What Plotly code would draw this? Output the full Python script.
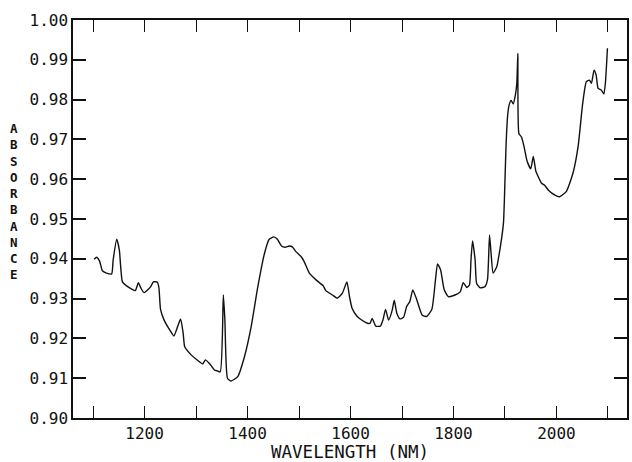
import plotly.graph_objects as go

wavelength = [1102, 1107, 1113, 1118, 1126, 1136, 1139, 1146, 1151, 1157, 1165, 1175, 1182, 1188,
              1193, 1199, 1207, 1212, 1217, 1225, 1228, 1231, 1238, 1249, 1257, 1264, 1270, 1275,
              1278, 1291, 1304, 1313, 1318, 1326, 1336, 1340, 1347, 1353, 1356, 1361, 1368, 1381,
              1394, 1407, 1420, 1433, 1442, 1451, 1458, 1466, 1473, 1481, 1487, 1494, 1505, 1510,
              1520, 1533, 1547, 1552, 1565, 1574, 1584, 1593, 1598, 1603, 1613, 1623, 1633, 1638,
              1642, 1649, 1658, 1663, 1668, 1674, 1681, 1685, 1690, 1696, 1703, 1709, 1715, 1721,
              1729, 1739, 1748, 1758, 1765, 1769, 1775, 1782, 1790, 1803, 1813, 1819, 1826, 1831,
              1834, 1837, 1842, 1845, 1852, 1861, 1866, 1870, 1873, 1877, 1884, 1890, 1897, 1900,
              1902, 1905, 1908, 1912, 1916, 1920, 1923, 1925, 1927, 1932, 1937, 1943, 1950, 1955,
              1960, 1964, 1971, 1977, 1984, 1997, 2006, 2019, 2032, 2042, 2051, 2058, 2064, 2068,
              2073, 2077, 2081, 2087, 2092, 2095, 2099]
absorbance = [0.9399, 0.9404, 0.9393, 0.9370, 0.9364, 0.9362, 0.9397, 0.9449, 0.9422, 0.9342,
              0.9332, 0.9324, 0.9320, 0.9340, 0.9326, 0.9315, 0.9323, 0.9330, 0.9342, 0.9341,
              0.9326, 0.9273, 0.9246, 0.9221, 0.9206, 0.9229, 0.9249, 0.9213, 0.9179, 0.9158,
              0.9144, 0.9136, 0.9146, 0.9137, 0.9120, 0.9119, 0.9116, 0.9309, 0.9246, 0.9100,
              0.9093, 0.9104, 0.9154, 0.9229, 0.9330, 0.9414, 0.9449, 0.9455, 0.9449, 0.9432,
              0.9429, 0.9432, 0.9430, 0.9418, 0.9404, 0.9393, 0.9364, 0.9347, 0.9332, 0.9320,
              0.9309, 0.9301, 0.9313, 0.9342, 0.9305, 0.9276, 0.9255, 0.9245, 0.9238, 0.9238,
              0.9250, 0.9231, 0.9231, 0.9246, 0.9273, 0.9246, 0.9271, 0.9296, 0.9263, 0.9249,
              0.9253, 0.9280, 0.9292, 0.9322, 0.9296, 0.9259, 0.9255, 0.9273, 0.9347, 0.9387,
              0.9372, 0.9322, 0.9305, 0.9309, 0.9317, 0.9340, 0.9328, 0.9334, 0.9397, 0.9445,
              0.9397, 0.9338, 0.9327, 0.9330, 0.9347, 0.9460, 0.9414, 0.9364, 0.9380, 0.9422,
              0.9489, 0.9598, 0.9682, 0.9757, 0.9786, 0.9798, 0.9789, 0.9810, 0.9841, 0.9916,
              0.9715, 0.9706, 0.9682, 0.9645, 0.9626, 0.9657, 0.9620, 0.9608, 0.9590, 0.9585,
              0.9573, 0.9560, 0.9556, 0.9569, 0.9615, 0.9682, 0.9791, 0.9845, 0.9849, 0.9841,
              0.9874, 0.9862, 0.9828, 0.9824, 0.9814, 0.9841, 0.9929]

x_tickvals = [1100, 1200, 1300, 1400, 1500, 1600, 1700, 1800, 1900, 2000, 2100]
x_ticktext = ["", "1200", "", "1400", "", "1600", "", "1800", "", "2000", ""]
y_tickvals = [0.90, 0.91, 0.92, 0.93, 0.94, 0.95, 0.96, 0.97, 0.98, 0.99, 1.00]
y_ticktext = ["0.90", "0.91", "0.92", "0.93", "0.94", "0.95", "0.96", "0.97", "0.98", "0.99", "1.00"]

FONT = "DejaVu Sans Mono"
INK = "#111111"

fig = go.Figure()
fig.add_trace(go.Scatter(x=wavelength, y=absorbance, mode="lines",
                         line=dict(color=INK, width=1.4, shape="spline", smoothing=0.5),
                         hoverinfo="skip"))

fig.update_layout(
    width=632, height=462,
    margin=dict(l=73, r=3, t=20, b=44),
    paper_bgcolor="white", plot_bgcolor="white",
    showlegend=False,
    font=dict(family=FONT, color=INK),
)
fig.update_xaxes(range=[1061, 2137], tickvals=x_tickvals, ticktext=x_ticktext,
                 ticks="inside", ticklen=12, tickwidth=1.2, tickcolor=INK,
                 showline=True, linecolor=INK, linewidth=1.5, mirror="ticks",
                 showgrid=False, zeroline=False, tickfont=dict(size=16, family=FONT, color=INK))
fig.update_yaxes(range=[0.90, 1.00], tickvals=y_tickvals, ticktext=y_ticktext,
                 ticks="inside", ticklen=13, tickwidth=1.5, tickcolor=INK,
                 showline=True, linecolor=INK, linewidth=1.5, mirror="ticks",
                 showgrid=False, zeroline=False, tickfont=dict(size=16, family=FONT, color=INK))

fig.add_annotation(text="WAVELENGTH (NM)", xref="paper", yref="paper", x=0.5, y=-0.0854,
                   xanchor="center", yanchor="middle", showarrow=False,
                   font=dict(size=17.5, family=FONT, color=INK))
fig.add_annotation(text="<br>".join(list("ABSORBANCE")), xref="paper", yref="paper",
                   x=-0.106, y=0.545, xanchor="center", yanchor="middle", showarrow=False,
                   align="center", font=dict(size=12.5, family=FONT, color=INK, weight="bold"))

fig.write_html("out.html")
